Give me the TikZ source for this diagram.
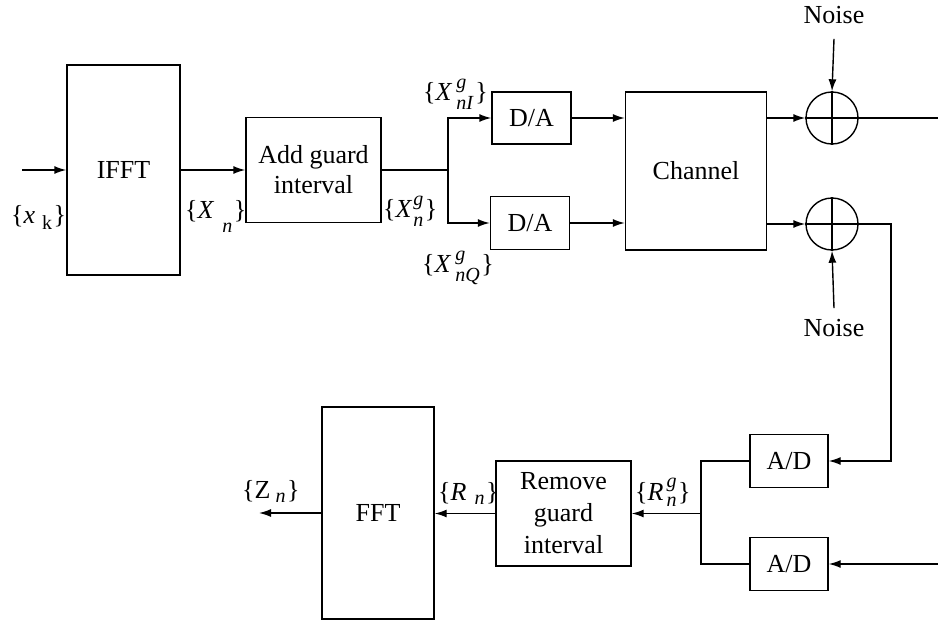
\documentclass[tikz,border=0pt]{standalone}
\usepackage{fontspec}
\setmainfont{Liberation Serif}
\usetikzlibrary{arrows.meta}
\newcommand{\sfnt}{\fontsize{20}{20}\selectfont}
% \lab{base}{sup}{sub}{gap}{raise}{lower}
\newcommand{\lab}[6]{\{#1\kern#4\rlap{\raisebox{#5}{\sfnt #2}}\raisebox{-#6}{\sfnt #3}\kern1.5pt\}}
\begin{document}
\begin{tikzpicture}[x=1pt,y=-1pt,
  every node/.style={font=\fontsize{26}{30}\selectfont},
  box/.style={draw, line width=1.4pt, inner sep=0pt, align=center},
  conn/.style={line width=1.4pt},
  arr/.style={conn, -{Latex[length=12pt,width=8pt]}},
  adder/.style={draw, circle, line width=1.4pt, inner sep=0pt, minimum size=52pt},
  lbl/.style={inner sep=0pt},
  slbl/.style={inner sep=0pt, anchor=base west}]
\useasboundingbox (0,0) rectangle (938,621);

% boxes
\node[box, minimum width=113pt, minimum height=210pt] (ifft) at (123.5,170) {IFFT};
\node[box, minimum width=135pt, minimum height=105pt] (agi) at (313.5,170) {Add guard\\interval};
\node[box, minimum width=79pt, minimum height=52pt] (da1) at (531.5,118) {D/A};
\node[box, minimum width=79pt, minimum height=53pt] (da2) at (530,223) {D/A};
\node[box, minimum width=141pt, minimum height=158pt] (ch) at (696,171) {Channel};
\node[adder] (a1) at (832,118) {};
\node[adder] (a2) at (832,224) {};
\node[lbl] (n1) at (834,15) {Noise};
\node[lbl] (n2) at (834,328) {Noise};
\node[box, minimum width=78pt, minimum height=53pt] (ad1) at (789,461) {A/D};
\node[box, minimum width=78pt, minimum height=53pt] (ad2) at (789,564) {A/D};
\node[box, minimum width=135pt, minimum height=105pt, font=\fontsize{26}{32}\selectfont] (rgi) at (563.5,513.5) {Remove\\guard\\interval};
\node[box, minimum width=112pt, minimum height=212pt] (fft) at (378,513) {FFT};

% free ends and junctions
\coordinate (in) at (22,170);
\coordinate (sp) at (448,170);
\coordinate (o1) at (938,118);
\coordinate (c2) at (891,224);
\coordinate (i2) at (938,564);
\coordinate (j) at (701,513.5);
\coordinate (zo) at (259,513);

% connectors
\draw[arr] (in) -- (ifft);
\draw[arr] (ifft) -- (agi);
\draw[conn] (agi.east) -- (sp);
\draw[arr] (sp) |- (da1.west);
\draw[arr] (sp) |- (da2.west);
\draw[arr] (da1.east) -- (da1.east -| ch.west);
\draw[arr] (da2.east) -- (da2.east -| ch.west);
\draw[arr] (ch.east |- a1) -- (a1.west);
\draw[arr] (ch.east |- a2) -- (a2.west);
\draw[conn] (a1.west) -- (a1.east) (a1.north) -- (a1.south);
\draw[conn] (a2.west) -- (a2.east) (a2.north) -- (a2.south);
\draw[conn] (a1.east) -- (o1);
\draw[arr] ([yshift=-15pt]n1.south) -- (a1.north);
\draw[arr] ([yshift=11pt]n2.north) -- (a2.south);
\draw[arr] (a2.east) -- (c2) |- (ad1.east);
\draw[arr] (i2) -- (ad2.east);
\draw[conn] (ad1.west) -| (j) |- (ad2.west);
\draw[arr] (j) -- (rgi.east);
\draw[arr] (rgi.west) -- (rgi.west -| fft.east);
\draw[arr] (fft.west |- zo) -- (zo);

% labels
\node[slbl] (lxk) at (11,223) {\lab{\textit{x}}{}{k}{7pt}{0pt}{6pt}};
\node[slbl] (lXn) at (185,218) {\lab{\textit{X}}{}{\textit{n}}{8pt}{0pt}{14pt}};
\node[slbl] (lXg) at (383,217) {\lab{\textit{X}}{\textit{g}}{\textit{n}}{1pt}{12pt}{9pt}};
\node[slbl] (lXI) at (423,100) {\lab{\textit{X}}{\textit{g}}{\textit{nI}}{4pt}{12pt}{9pt}};
\node[slbl] (lXQ) at (422,272) {\lab{\textit{X}}{\textit{g}}{\textit{nQ}}{4pt}{12pt}{9pt}};
\node[slbl] (lZn) at (242,498) {\lab{Z}{}{\textit{n}}{5pt}{0pt}{4pt}};
\node[slbl] (lRn) at (438,500) {\lab{\textit{R}}{}{\textit{n}}{8pt}{0pt}{4pt}};
\node[slbl] (lRg) at (635,500) {\lab{\textit{R}}{\textit{g}}{\textit{n}}{3pt}{13pt}{6pt}};
\end{tikzpicture}
\end{document}
